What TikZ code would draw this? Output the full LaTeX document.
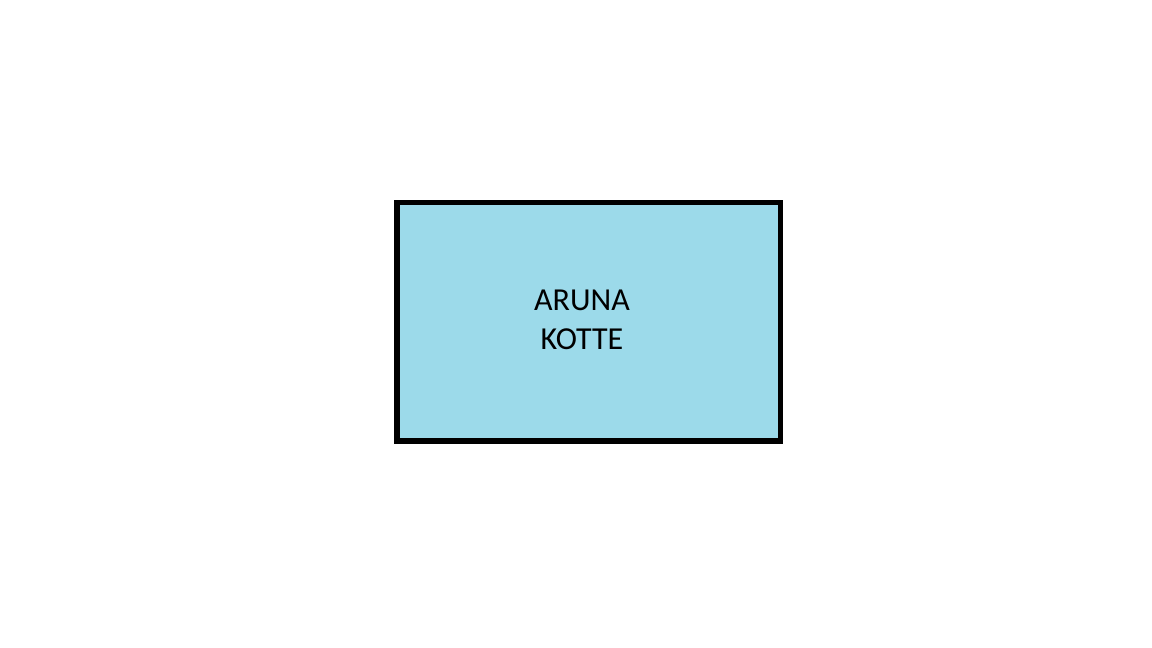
\documentclass[tikz,border=0pt]{standalone}
\usepackage{fontspec}
\setmainfont{Carlito}
\definecolor{boxblue}{HTML}{9CDAEA}
\tikzset{
  namebox/.style={draw=black, line width=5.5pt, fill=boxblue, minimum width=383.5pt, minimum height=238.5pt, inner sep=0pt},
  nametext/.style={align=center, inner sep=0pt, font=\fontsize{32}{39}\selectfont}
}
\begin{document}
\begin{tikzpicture}[x=1pt,y=1pt]
\useasboundingbox (0,0) rectangle (1152,648);
\node[namebox] (box) at (588.5,326) {};
\node[nametext] (name) at (582,328) {ARUNA\\KOTTE};
\end{tikzpicture}
\end{document}
